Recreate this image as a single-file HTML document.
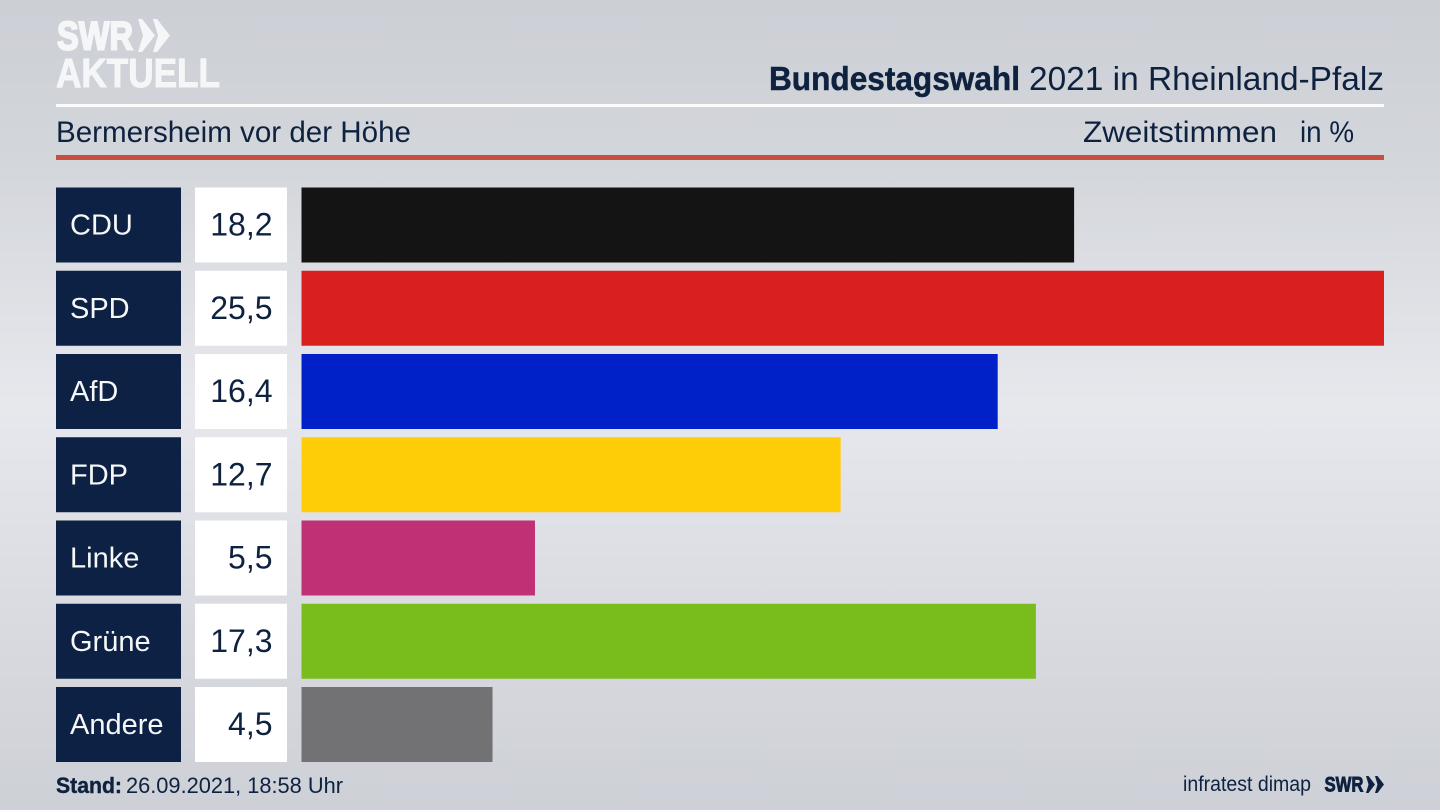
<!DOCTYPE html>
<html lang="de">
<head>
<meta charset="utf-8">
<title>Bundestagswahl 2021 in Rheinland-Pfalz</title>
<style>
html,body{margin:0;padding:0;width:1440px;height:810px;overflow:hidden;background:#d8dae0}
svg{display:block;position:absolute;left:0;top:0}
text{font-family:"Liberation Sans",sans-serif}
</style>
</head>
<body>
<svg id="chart" width="1440" height="810" viewBox="0 0 1440 810" xmlns="http://www.w3.org/2000/svg">
  <defs>
    <linearGradient id="bg" x1="0" y1="0" x2="0" y2="1">
      <stop offset="0" stop-color="#cccfd5"/>
      <stop offset="0.2" stop-color="#d3d6db"/>
      <stop offset="0.5" stop-color="#e7e8ed"/>
      <stop offset="0.8" stop-color="#d7d9df"/>
      <stop offset="1" stop-color="#cdd0d6"/>
    </linearGradient>
  </defs>
  <rect x="0" y="0" width="1440" height="810" fill="url(#bg)"/>

  <g fill="#f5f6f8" stroke="#f5f6f8">
    <text x="57" y="49.5" font-size="40" font-weight="700" stroke-width="2" textLength="76" lengthAdjust="spacingAndGlyphs">SWR</text>
    <polygon stroke="none" points="138,19 142,19 155,35.5 142,52 138,52 143,35.5"/>
    <polygon stroke="none" points="153,19 157,19 170,35.5 157,52 153,52 158,35.5"/>
    <text x="56" y="87" font-size="41" font-weight="700" stroke-width="1" textLength="164" lengthAdjust="spacingAndGlyphs">AKTUELL</text>
  </g>

  <text x="769" y="90" font-size="33" font-weight="700" fill="#0e2240" stroke="#0e2240" stroke-width="0.5" textLength="251" lengthAdjust="spacingAndGlyphs">Bundestagswahl</text>
  <text x="1029" y="90" font-size="33" fill="#0e2240" textLength="355" lengthAdjust="spacingAndGlyphs">2021 in Rheinland-Pfalz</text>
  <rect x="56" y="104" width="1328" height="3" fill="#fbfbfc"/>
  <text x="56" y="142" font-size="30" fill="#0e2240" textLength="355" lengthAdjust="spacingAndGlyphs">Bermersheim vor der Höhe</text>
  <text x="1083" y="142" font-size="30" fill="#0e2240" textLength="194" lengthAdjust="spacingAndGlyphs">Zweitstimmen</text>
  <text x="1300" y="142" font-size="30" fill="#0e2240" textLength="54" lengthAdjust="spacingAndGlyphs">in %</text>
  <rect x="56" y="155" width="1328" height="5" fill="#c84f3e"/>

  <g id="rows"></g>

  <text x="56" y="793" font-size="22" font-weight="700" fill="#0e2240" stroke="#0e2240" stroke-width="0.4" textLength="66" lengthAdjust="spacingAndGlyphs">Stand:</text>
  <text x="126" y="793" font-size="22" fill="#0e2240" textLength="217" lengthAdjust="spacingAndGlyphs">26.09.2021, 18:58 Uhr</text>
  <text x="1183" y="791" font-size="21" fill="#0e2240" textLength="128" lengthAdjust="spacingAndGlyphs">infratest dimap</text>
  <g fill="#0e2240">
    <text x="1324.5" y="791.5" font-size="21" font-weight="700" stroke="#0e2240" stroke-width="0.9" textLength="39" lengthAdjust="spacingAndGlyphs">SWR</text>
    <polygon points="1366,776 1368.5,776 1375,784.5 1368.5,793 1366,793 1368.5,784.5"/>
    <polygon points="1375,776 1377.5,776 1384,784.5 1377.5,793 1375,793 1377.5,784.5"/>
  </g>
</svg>
<script>
var parties = ["CDU", "SPD", "AfD", "FDP", "Linke", "Grüne", "Andere"];
var voteShares = [18.2, 25.5, 16.4, 12.7, 5.5, 17.3, 4.5];
var partyColors = ["#141414", "#da201f", "#0021c8", "#ffcc08", "#bf3074", "#78bd1b", "#727274"];

var NS = "http://www.w3.org/2000/svg";
var rowsGroup = document.getElementById("rows");
var maxShare = Math.max.apply(null, voteShares);

function xScale(v) {
  return v / maxShare * 1082.5;
}
function yScale(i) {
  return 187.5 + i * 83.25;
}
function make(tag, attrs, text) {
  var el = document.createElementNS(NS, tag);
  for (var k in attrs) {
    el.setAttribute(k, attrs[k]);
  }
  if (text !== undefined) {
    el.textContent = text;
  }
  return el;
}

parties.forEach(function (party, i) {
  var y = yScale(i);
  var slug = party.toLowerCase().replace("ü", "ue");

  var labelBox = make("rect", {x: 56, y: y, width: 125, height: 75, fill: "#0c2143"});
  
  
  rowsGroup.appendChild(labelBox);

  var label = make("text", {x: 70, y: y + 47, "font-size": 29, fill: "#f6f7f9"}, party);
  
  
  rowsGroup.appendChild(label);

  var valueBox = make("rect", {x: 195, y: y, width: 92, height: 75, fill: "#ffffff"});
  
  
  rowsGroup.appendChild(valueBox);

  var value = make("text", {x: 272.5, y: y + 48, "font-size": 32, "text-anchor": "end", fill: "#0e2240"},
    voteShares[i].toFixed(1).replace(".", ","));
  
  
  rowsGroup.appendChild(value);

  var bar = make("rect", {x: 301.5, y: y, width: xScale(voteShares[i]), height: 75, fill: partyColors[i]});
  
  
  rowsGroup.appendChild(bar);
});
</script>
</body>
</html>
